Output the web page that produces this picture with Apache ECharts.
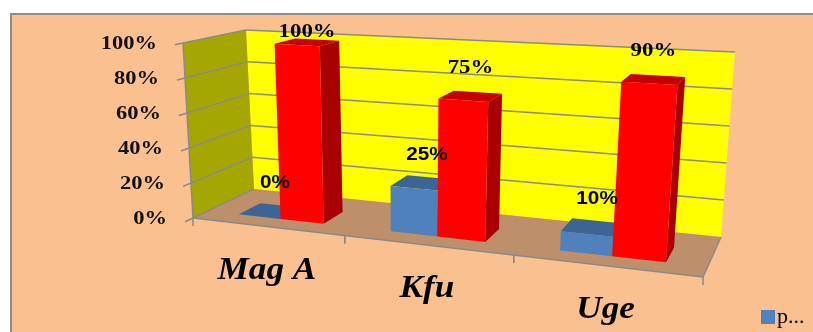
<!DOCTYPE html>
<html><head><meta charset="utf-8">
<script src="https://cdn.jsdelivr.net/npm/echarts@6/dist/echarts.min.js"></script>
<style>html,body{margin:0;padding:0;background:#fff;overflow:hidden}#c{width:813px;height:332px}</style>
</head><body><div id="c"></div>
<script>
// ---- data ----
const categories = ['Mag A', 'Kfu', 'Uge'];
const seriesNames = ['p...', 'Series 2'];
const blueValues = [0, 0.25, 0.10];
const redValues = [1.00, 0.75, 0.90];
const blueLabels = ['0%', '25%', '10%'];
const redLabels = ['100%', '75%', '90%'];
const yTicks = [0, 0.2, 0.4, 0.6, 0.8, 1.0];
const yTickLabels = ['0%', '20%', '40%', '60%', '80%', '100%'];

// ---- layout / style (3D frame corners, front/back planes) ----
const FRAME = {
  FLB: [193, 218], FRB: [703, 277], BLB: [254, 189], BRB: [721, 237],
  FLT: [183, 43], FRT: [718, 73], BLT: [246, 30], BRT: [735, 52]
};
const PERSP_K = 1.18;
const BAR_W = 0.286;
const DEPTH0 = 0.25, DEPTH1 = 0.62;
const GRID_COLOR = '#8A8A8A';

function lerp(a, b, t) { return [a[0] + (b[0] - a[0]) * t, a[1] + (b[1] - a[1]) * t]; }
function persp(u) { return u / (PERSP_K * (1 - u) + u); }
function P(uL, v, w) {
  const u = persp(uL);
  const fb = lerp(FRAME.FLB, FRAME.FRB, u), ft = lerp(FRAME.FLT, FRAME.FRT, u);
  const bb = lerp(FRAME.BLB, FRAME.BRB, u), bt = lerp(FRAME.BLT, FRAME.BRT, u);
  return lerp(lerp(fb, ft, v), lerp(bb, bt, v), w);
}
function normU(cs, x) { return (x - cs.x) / cs.width; }
function normV(cs, y) { return (cs.y + cs.height - y) / cs.height; }
function line(a, b, color, lw) {
  return { type: 'line', shape: { x1: a[0], y1: a[1], x2: b[0], y2: b[1] }, style: { stroke: color, lineWidth: lw || 1.5 } };
}
function poly(pts, fill) { return { type: 'polygon', shape: { points: pts }, style: { fill: fill } }; }

function frameRender(params, api) {
  const cs = params.coordSys;
  const ch = [];
  // walls & floor
  ch.push(poly([P(0,0,1), P(1,0,1), P(1,1,1), P(0,1,1)], '#FFFF00'));
  ch.push(poly([P(0,0,0), P(0,0,1), P(0,1,1), P(0,1,0)], '#A6A600'));
  ch.push(poly([P(0,0,0), P(1,0,0), P(1,0,1), P(0,0,1)], '#BE8F6B'));
  // gridlines + y ticks + y labels
  yTicks.forEach(function (t, i) {
    const v = normV(cs, api.coord([0, t])[1]);
    ch.push(line(P(0, v, 0), P(0, v, 1), GRID_COLOR));
    if (v > 0.001) ch.push(line(P(0, v, 1), P(1, v, 1), GRID_COLOR));
    ch.push(line(P(0, v, 0), P(0, v, -0.13), GRID_COLOR));
    const a = P(0, v, 0);
    ch.push({ type: 'text', x: a[0] - 26, y: a[1] + 1, scaleX: 1.25, z2: 50,
      style: { text: yTickLabels[i], fill: '#111', fontFamily: 'Liberation Serif', fontWeight: 'bold', fontSize: 18, align: 'right', verticalAlign: 'middle' } });
  });
  // axis line (front-left edge)
  ch.push(line(P(0, 0, 0), P(0, 1, 0), GRID_COLOR));
  // floor front & right edges
  ch.push(line(P(0, 0, 0), P(1, 0, 0), GRID_COLOR));
  ch.push(line(P(1, 0, 0), P(1, 0, 1), GRID_COLOR));
  // category ticks & labels
  const band = api.size([1, 0])[0];
  categories.forEach(function (c, i) {
    const cx = api.coord([i, 0])[0];
    const uc = normU(cs, cx);
    const ul = normU(cs, cx - band / 2), ur = normU(cs, cx + band / 2);
    [ul, ur].forEach(function (u) {
      const p = P(u, 0, 0);
      ch.push(line(p, [p[0], p[1] + 8], GRID_COLOR));
    });
    const p = P(uc, 0, 0);
    ch.push({ type: 'text', x: p[0], y: p[1] + 44, scaleX: 1.1, z2: 50,
      style: { text: c, fill: '#000', fontFamily: 'Liberation Serif', fontWeight: 'bold', fontStyle: 'italic', fontSize: 32, align: 'center', verticalAlign: 'middle' } });
  });
  return { type: 'group', children: ch };
}

function barRender(side, colors, labels, lab) {
  return function (params, api) {
    const cs = params.coordSys;
    const cat = api.value(0), val = api.value(1);
    const top = api.coord([cat, val]), base = api.coord([cat, 0]);
    const band = api.size([1, 0])[0];
    const x0 = side < 0 ? top[0] - band * BAR_W : top[0];
    const x1 = x0 + band * BAR_W;
    const u0 = normU(cs, x0), u1 = normU(cs, x1);
    const vb = normV(cs, base[1]), vt = normV(cs, top[1]);
    const w0 = DEPTH0, w1 = DEPTH1;
    const ch = [];
    ch.push(poly([P(u1,vb,w0), P(u1,vb,w1), P(u1,vt,w1), P(u1,vt,w0)], colors.side));
    ch.push(poly([P(u0,vt,w0), P(u1,vt,w0), P(u1,vt,w1), P(u0,vt,w1)], colors.top));
    if (vt - vb > 0.001) ch.push(poly([P(u0,vb,w0), P(u1,vb,w0), P(u1,vt,w0), P(u0,vt,w0)], colors.front));
    const a = P((u0 + u1) / 2, vt, (w0 + w1) / 2);
    const minY = FRAME.BLT[1] + 2;
    ch.push({ type: 'text', x: a[0] + lab.dx, y: Math.max(a[1] + lab.dy, minY), scaleX: lab.sx, z2: 100,
      style: { text: labels[params.dataIndex], fill: '#000', fontFamily: lab.font, fontWeight: 'bold', fontSize: 18, align: 'center', verticalAlign: 'middle' } });
    return { type: 'group', children: ch };
  };
}

const chart = echarts.init(document.getElementById('c'));
chart.setOption({
  animation: false,
  backgroundColor: '#ffffff',
  color: ['#4F81BD', '#FF0000'],
  graphic: [{ type: 'rect', z: -10, shape: { x: 11, y: 14, width: 830, height: 340 },
    style: { fill: '#FAC090', stroke: '#8C8C8C', lineWidth: 2 } }],
  grid: { left: 193, right: 110, top: 43, bottom: 114 },
  xAxis: { type: 'category', data: categories, show: false },
  yAxis: { type: 'value', min: 0, max: 1, interval: 0.2, show: false },
  legend: { data: [seriesNames[0]], left: 761, top: 306, padding: 0, itemWidth: 14, itemHeight: 14, icon: 'rect',
    textStyle: { fontFamily: 'Liberation Serif', fontSize: 22, color: '#000', padding: [0, 0, 0, -3] } },
  series: [
    { type: 'custom', name: 'frame', clip: false, silent: true, z: 1, data: [[0, 0]], renderItem: frameRender },
    { type: 'custom', name: seriesNames[0], clip: false, itemStyle: { color: '#4F81BD' },
      data: blueValues.map(function (v, i) { return [i, v]; }),
      renderItem: barRender(-1, { front: '#4F81BD', top: '#3C6596', side: '#37598A' }, blueLabels, { dx: 5, dy: -28, sx: 1.15, font: 'Liberation Sans' }) },
    { type: 'custom', name: seriesNames[1], clip: false, itemStyle: { color: '#FF0000' },
      data: redValues.map(function (v, i) { return [i, v]; }),
      renderItem: barRender(1, { front: '#FF0000', top: '#C40000', side: '#A80000' }, redLabels, { dx: 0, dy: -28, sx: 1.27, font: 'Liberation Serif' }) }
  ]
});
</script></body></html>
